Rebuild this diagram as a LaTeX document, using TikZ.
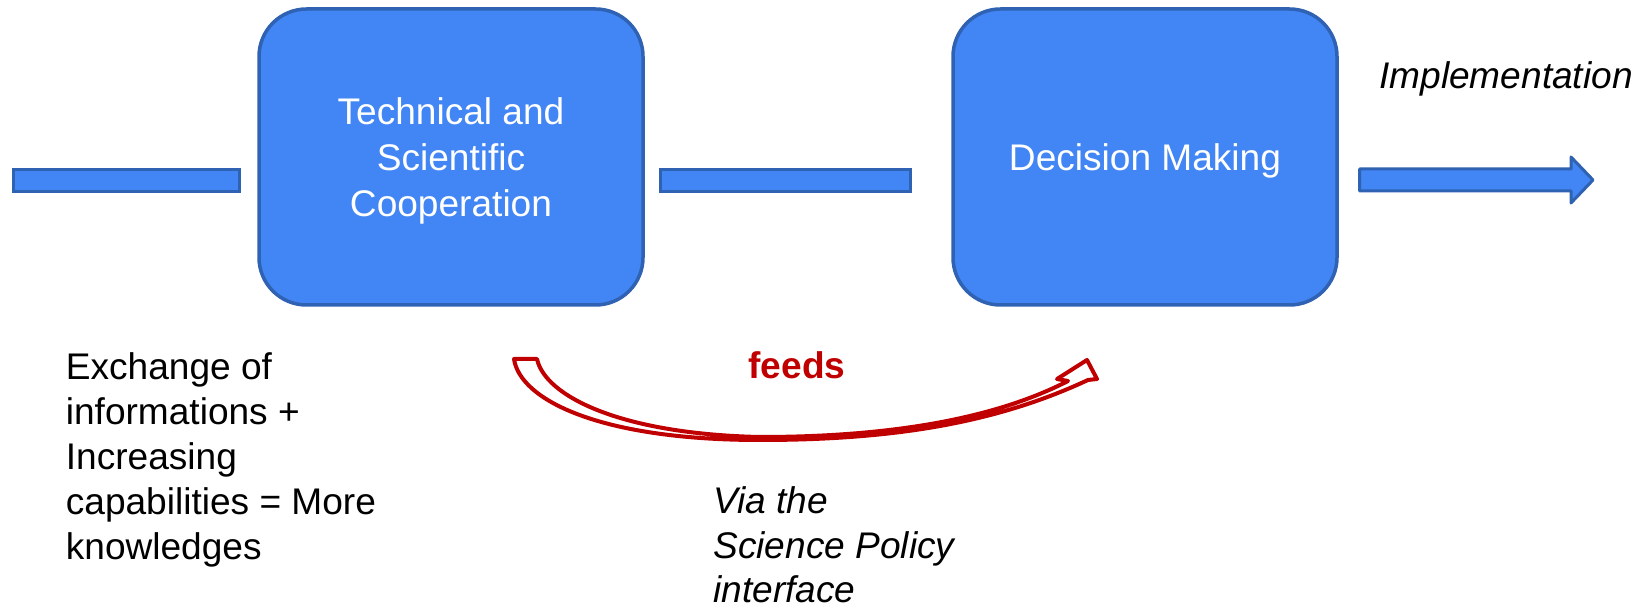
\documentclass[tikz,border=0pt]{standalone}
\usepackage{fontspec}
\setmainfont{Liberation Sans}
\definecolor{boxblue}{HTML}{4285F4}
\definecolor{boxedge}{HTML}{2F62B2}
\definecolor{feedred}{HTML}{C00000}
\begin{document}
\begin{tikzpicture}[
        box/.style = {draw = boxedge, fill = boxblue, line width = 0.07cm, rounded corners = 0.95cm,
            minimum width = 7.68cm, minimum height = 5.92cm, align = center, text = white,
            text depth = 0pt, font = \fontsize{21.1}{26.2}\selectfont},
        bar/.style = {draw = boxedge, line width = 0.5cm,
            postaction = {draw = boxblue, line width = 0.38cm, shorten < = 0.06cm, shorten > = 0.06cm}},
        txt/.style = {align = left, inner sep = 0pt, font = \fontsize{21.1}{25.6}\selectfont}
    ]
        \useasboundingbox (0, 0) rectangle (32.96, 12.18);
        % the two blocks
        \node[box] (tech) at (9.02, 9.04) {Technical and\\Scientific\\Cooperation};
        \node[box] (decide) at (22.9, 9.04) {Decision Making};
        % flow bars
        \coordinate (in) at (0.24, 8.57);
        \draw[bar] (in) -- ([xshift = -0.32cm]tech.west |- in);
        \draw[bar] ([xshift = 0.28cm]tech.east |- in) -- ([xshift = -0.78cm]decide.west |- in);
        \coordinate (impl) at (31.86, 8.58);
        \filldraw[draw = boxedge, fill = boxblue, line width = 0.06cm, line join = round]
            (27.19, 8.8) -- (31.42, 8.8) -- (31.42, 9.04) -- (impl) -- (31.42, 8.12)
            -- (31.42, 8.36) -- (27.19, 8.36) -- cycle;
        \node[txt, anchor = base, font = \fontsize{21.1}{25}\selectfont\itshape] (impltext) at (30.12, 10.41) {Implementation};
        % feeds arrow
        \filldraw[draw = feedred, fill = white, line width = 0.08cm, line join = round]
            (21.36, 4.56) -- (21.14, 4.6) -- (21.74, 4.98) -- (21.94, 4.6) -- (21.76, 4.58)
            .. controls (20.0, 3.76) and (18.0, 3.38) .. (15.2, 3.38)
            .. controls (12.0, 3.38) and (10.4, 4.18) .. (10.28, 5.0)
            -- (10.74, 5.0)
            .. controls (10.9, 4.26) and (12.4, 3.5) .. (15.2, 3.44)
            .. controls (18.0, 3.44) and (20.0, 3.86) .. (21.36, 4.56) -- cycle;
        \node[anchor = base, text = feedred, font = \fontsize{21.1}{25}\selectfont\bfseries] (feeds) at (15.94, 4.6) {feeds};
        % notes
        \node[txt, anchor = north west] (know) at (1.31, 5.14) {Exchange of\\informations +\\Increasing\\capabilities = More\\knowledges};
        \node[txt, anchor = north west, font = \fontsize{21.1}{25.3}\selectfont\itshape] (via) at (14.26, 2.45) {Via the\\Science Policy\\interface};
    \end{tikzpicture}
\end{document}
